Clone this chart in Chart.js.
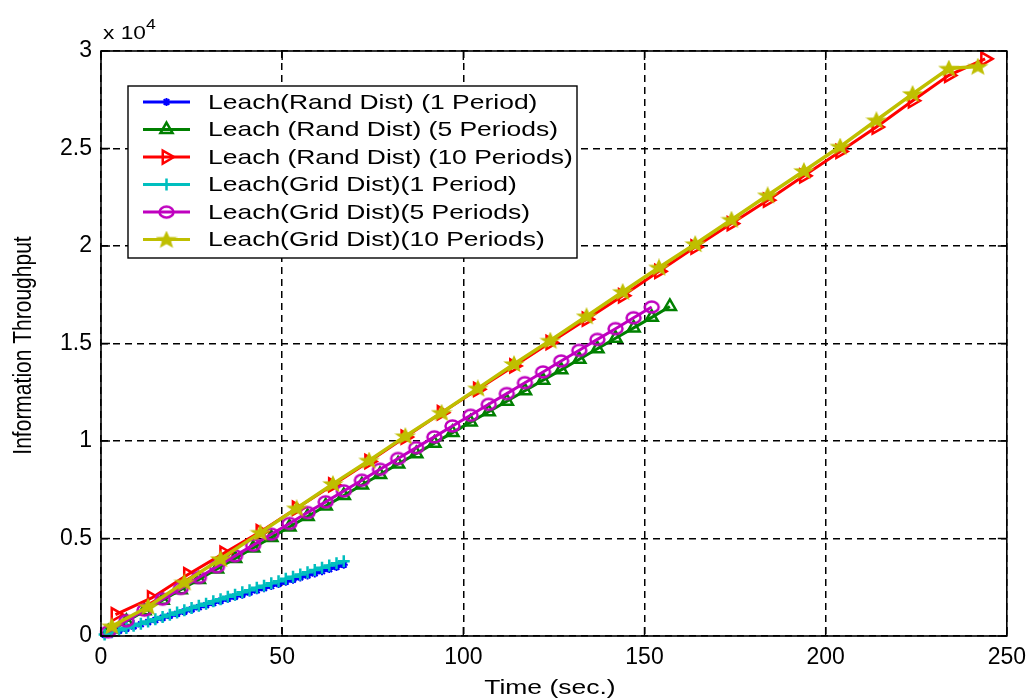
<!DOCTYPE html>
<html>
<head>
<meta charset="utf-8">
<title>Information Throughput</title>
<script src="https://cdn.jsdelivr.net/npm/chart.js@4.4.1/dist/chart.umd.min.js"></script>
<style>
  body { margin: 0; background: #fff; }
  #wrap { width: 1034px; height: 698px; }
</style>
</head>
<body>
<div id="wrap"><canvas id="throughputChart" width="1034" height="698"></canvas></div>
<script>
// series labels, in plotting order
const seriesNames = [
  "Leach(Rand Dist) (1 Period)",
  "Leach (Rand Dist) (5 Periods)",
  "Leach (Rand Dist) (10 Periods)",
  "Leach(Grid Dist)(1 Period)",
  "Leach(Grid Dist)(5 Periods)",
  "Leach(Grid Dist)(10 Periods)"
];

// 1 period runs (time in sec.)
const onePeriodTimes = [1, 3, 5, 7, 9, 11, 13, 15, 17, 19, 21, 23, 25, 27, 29, 31, 33,
  35, 37, 39, 41, 43, 45, 47, 49, 51, 53, 55, 57, 59, 61, 63, 65, 67];
const randOneValues = [60, 160, 270, 380, 490, 600, 710, 820, 930, 1040, 1140, 1250, 1360,
  1470, 1580, 1690, 1800, 1910, 2020, 2120, 2230, 2340, 2450, 2560, 2670, 2780, 2890,
  3000, 3100, 3210, 3320, 3430, 3540, 3650];
const gridOneValues = [80, 190, 300, 410, 520, 630, 750, 860, 980, 1090, 1200, 1320, 1430,
  1550, 1660, 1780, 1890, 2010, 2120, 2240, 2350, 2470, 2580, 2700, 2810, 2930, 3040,
  3160, 3270, 3390, 3500, 3620, 3730, 3830];

// 5 period runs
const randFiveTimes = [2, 7, 12, 17, 22, 27, 32, 37, 42, 47, 52, 57, 62, 67, 72, 77, 82, 87,
  92, 97, 102, 107, 112, 117, 122, 127, 132, 137, 142, 147, 152, 157];
const randFiveValues = [200, 750, 1290, 1830, 2370, 2900, 3440, 3980, 4510, 5050, 5590, 6130,
  6670, 7200, 7740, 8280, 8820, 9350, 9890, 10430, 10970, 11500, 12040, 12580, 13120,
  13650, 14190, 14730, 15270, 15800, 16340, 16900];
const gridFiveTimes = [2, 7, 12, 17, 22, 27, 32, 37, 42, 47, 52, 57, 62, 67, 72, 77, 82, 87,
  92, 97, 102, 107, 112, 117, 122, 127, 132, 137, 142, 147, 152];
const gridFiveValues = [220, 780, 1330, 1890, 2440, 3000, 3550, 4110, 4660, 5220, 5770, 6330,
  6880, 7440, 7990, 8550, 9100, 9660, 10210, 10770, 11320, 11880, 12430, 12990, 13540,
  14100, 14650, 15210, 15760, 16320, 16870];

// 10 period runs
const randTenTimes = [4, 14, 24, 34, 44, 54, 64, 74, 84, 94, 104, 114, 124, 134, 144, 154,
  164, 174, 184, 194, 204, 214, 224, 234, 244];
const randTenValues = [1100, 1950, 3150, 4250, 5350, 6550, 7750, 8950, 10200, 11450, 12650,
  13850, 15050, 16250, 17450, 18700, 19950, 21150, 22350, 23600, 24850, 26100, 27450,
  28750, 29600];
const gridTenTimes = [3, 13, 23, 33, 44, 54, 64, 74, 84, 94, 104, 114, 124, 134, 144, 154,
  164, 174, 184, 194, 204, 214, 224, 234, 242];
const gridTenValues = [500, 1500, 2750, 3950, 5300, 6550, 7800, 9000, 10250, 11450, 12700,
  13950, 15150, 16400, 17650, 18900, 20100, 21350, 22600, 23850, 25100, 26450, 27800,
  29100, 29200];

const xTickValues = [0, 50, 100, 150, 200, 250];
const yTickValues = [0, 5000, 10000, 15000, 20000, 25000, 30000];

const FONT = "'Liberation Sans', Arial, sans-serif";
const STRETCH = 1.26; // the figure's text runs wide

function toPoints(xs, ys) {
  return xs.map((x, i) => ({ x: x, y: ys[i] }));
}

// hollow ellipse marker
function makeRing(color) {
  const c = document.createElement('canvas');
  c.width = 19; c.height = 16;
  const g = c.getContext('2d');
  g.strokeStyle = color;
  g.lineWidth = 2.5;
  g.beginPath();
  g.ellipse(9.5, 8, 7, 5.4, 0, 0, Math.PI * 2);
  g.stroke();
  return c;
}

// five point star marker, drawn heavy
function makeStar(color) {
  const c = document.createElement('canvas');
  c.width = 22; c.height = 18;
  const g = c.getContext('2d');
  g.translate(11, 9.5);
  g.scale(1.2, 1);
  g.beginPath();
  for (let i = 0; i < 10; i++) {
    const r = i % 2 ? 3.3 : 7.8;
    const a = -Math.PI / 2 + i * Math.PI / 5;
    g.lineTo(r * Math.cos(a), r * Math.sin(a));
  }
  g.closePath();
  g.fillStyle = color;
  g.fill();
  g.strokeStyle = color;
  g.lineWidth = 1.2;
  g.stroke();
  return c;
}

const colors = ['#0000ff', '#008000', '#ff0000', '#00bfbf', '#bf00bf', '#bfbf00'];

function series(i, xs, ys, style) {
  return Object.assign({
    label: seriesNames[i],
    data: toPoints(xs, ys),
    borderColor: colors[i],
    backgroundColor: 'rgba(0,0,0,0)',
    pointBorderColor: colors[i],
    pointBackgroundColor: 'rgba(0,0,0,0)',
    borderWidth: 3,
    pointBorderWidth: 2.5,
    showLine: true,
    tension: 0,
    clip: false,
    order: 6 - i
  }, style);
}

const datasets = [
  series(0, onePeriodTimes, randOneValues, { pointStyle: 'star', pointRadius: 4, pointBorderWidth: 2 }),
  series(1, randFiveTimes, randFiveValues, { pointStyle: 'triangle', pointRadius: 7 }),
  series(2, randTenTimes, randTenValues, { pointStyle: 'triangle', pointRadius: 7.5, pointRotation: 90 }),
  series(3, onePeriodTimes, gridOneValues, { pointStyle: 'cross', pointRadius: 6 }),
  series(4, gridFiveTimes, gridFiveValues, { pointStyle: makeRing(colors[4]) }),
  series(5, gridTenTimes, gridTenValues, { pointStyle: makeStar(colors[5]), borderWidth: 3.5 })
];

function stretchedText(ctx, text, x, y, align) {
  ctx.save();
  ctx.translate(x, y);
  ctx.scale(STRETCH, 1);
  ctx.textAlign = align;
  ctx.fillText(text, 0, 0);
  ctx.restore();
}

// box, inward ticks, titles, exponent and legend in the old plotting style
const figureDecor = {
  id: 'figureDecor',
  afterDraw(chart) {
    const ctx = chart.ctx;
    const a = chart.chartArea;
    const xs = chart.scales.x;
    const ys = chart.scales.y;
    ctx.save();
    ctx.strokeStyle = '#000';
    ctx.lineWidth = 1.6;
    ctx.strokeRect(a.left, a.top, a.right - a.left, a.bottom - a.top);

    ctx.lineWidth = 1.4;
    ctx.beginPath();
    xTickValues.forEach(v => {
      const px = xs.getPixelForValue(v);
      ctx.moveTo(px, a.bottom); ctx.lineTo(px, a.bottom - 9);
      ctx.moveTo(px, a.top); ctx.lineTo(px, a.top + 9);
    });
    yTickValues.forEach(v => {
      const py = ys.getPixelForValue(v);
      ctx.moveTo(a.left, py); ctx.lineTo(a.left + 9, py);
      ctx.moveTo(a.right, py); ctx.lineTo(a.right - 9, py);
    });
    ctx.stroke();

    ctx.fillStyle = '#000';
    ctx.textBaseline = 'alphabetic';

    // exponent above the y axis
    ctx.font = '18px ' + FONT;
    stretchedText(ctx, 'x 10', a.left + 2, a.top - 12, 'left');
    ctx.font = '14px ' + FONT;
    stretchedText(ctx, '4', a.left + 45, a.top - 22, 'left');

    // axis titles
    ctx.font = '21px ' + FONT;
    stretchedText(ctx, 'Time (sec.)', (a.left + a.right) / 2 - 4, 694, 'center');
    ctx.save();
    ctx.translate(24, (a.top + a.bottom) / 2 + 2);
    ctx.scale(1.22, 1);
    ctx.rotate(-Math.PI / 2);
    ctx.textAlign = 'center';
    ctx.textBaseline = 'middle';
    ctx.fillText('Information Throughput', 0, 0);
    ctx.restore();

    // legend
    const box = { left: 128, top: 86, right: 577, bottom: 258 };
    ctx.fillStyle = '#fff';
    ctx.fillRect(box.left, box.top, box.right - box.left, box.bottom - box.top);
    ctx.strokeStyle = '#000';
    ctx.lineWidth = 1.4;
    ctx.strokeRect(box.left, box.top, box.right - box.left, box.bottom - box.top);

    const rowStep = (box.bottom - box.top) / 6.25;
    chart.data.datasets.forEach((ds, i) => {
      const cy = box.top + 16 + i * rowStep;
      ctx.strokeStyle = ds.borderColor;
      ctx.lineWidth = 3;
      ctx.beginPath();
      ctx.moveTo(143, cy); ctx.lineTo(190, cy);
      ctx.stroke();
      ctx.lineWidth = ds.pointBorderWidth;
      ctx.fillStyle = 'rgba(0,0,0,0)';
      Chart.helpers.drawPoint(ctx, {
        pointStyle: ds.pointStyle,
        radius: ds.pointRadius || 6,
        rotation: ds.pointRotation || 0,
        borderWidth: ds.pointBorderWidth
      }, 166.5, cy);
      ctx.fillStyle = '#000';
      ctx.font = '21px ' + FONT;
      ctx.textBaseline = 'middle';
      stretchedText(ctx, ds.label, 208, cy + 1, 'left');
    });
    ctx.restore();
  }
};

new Chart(document.getElementById('throughputChart'), {
  type: 'scatter',
  data: { datasets: datasets },
  options: {
    responsive: false,
    animation: false,
    events: [],
    layout: { padding: { top: 51, right: 22, left: 0, bottom: 0 } },
    plugins: { legend: { display: false }, tooltip: { enabled: false } },
    scales: {
      x: {
        type: 'linear',
        min: 0, max: 250,
        afterFit: s => { s.height = 62; },
        afterBuildTicks: s => { s.ticks = xTickValues.map(v => ({ value: v })); },
        ticks: { color: '#000', font: { family: FONT, size: 23 }, padding: 8, maxRotation: 0 },
        grid: { color: '#000', lineWidth: 1.5, drawTicks: false },
        border: { display: false, dash: [7, 5] }
      },
      y: {
        type: 'linear',
        min: 0, max: 30000,
        afterFit: s => { s.width = 101; },
        afterBuildTicks: s => { s.ticks = yTickValues.map(v => ({ value: v })); },
        ticks: {
          color: '#000', font: { family: FONT, size: 23 }, padding: 9,
          callback: v => String(v / 10000)
        },
        grid: { color: '#000', lineWidth: 1.5, drawTicks: false },
        border: { display: false, dash: [7, 5] }
      }
    }
  },
  plugins: [figureDecor]
});
</script>
</body>
</html>
